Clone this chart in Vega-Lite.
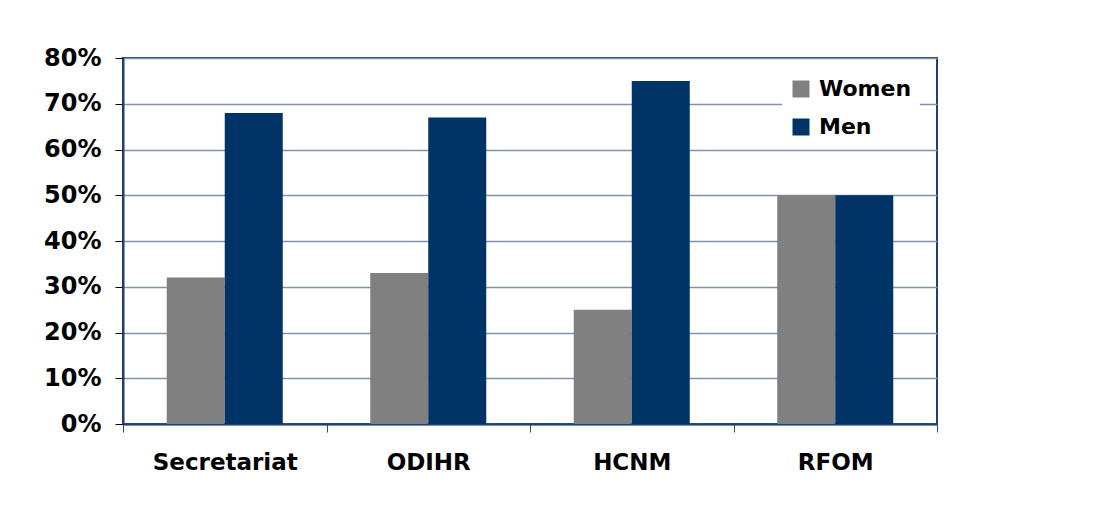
{
  "$schema": "https://vega.github.io/schema/vega-lite/v6.json",
  "autosize": "none",
  "width": 814,
  "height": 366,
  "padding": {"left": 123, "top": 58, "right": 159, "bottom": 82},
  "background": "white",
  "config": {
    "font": "DejaVu Sans",
    "view": {"stroke": "#1f3f6f", "strokeWidth": 2}
  },
  "data": {
    "values": [
      {"unit": "Secretariat", "gender": "Women", "share": 0.32},
      {"unit": "Secretariat", "gender": "Men", "share": 0.68},
      {"unit": "ODIHR", "gender": "Women", "share": 0.33},
      {"unit": "ODIHR", "gender": "Men", "share": 0.67},
      {"unit": "HCNM", "gender": "Women", "share": 0.25},
      {"unit": "HCNM", "gender": "Men", "share": 0.75},
      {"unit": "RFOM", "gender": "Women", "share": 0.5},
      {"unit": "RFOM", "gender": "Men", "share": 0.5}
    ]
  },
  "mark": {"type": "bar"},
  "encoding": {
    "x": {
      "field": "unit",
      "type": "nominal",
      "sort": ["Secretariat", "ODIHR", "HCNM", "RFOM"],
      "scale": {"paddingInner": 0, "paddingOuter": 0},
      "axis": {
        "title": null,
        "labelAngle": 0,
        "labelFont": "DejaVu Sans",
        "labelFontSize": 23,
        "labelFontWeight": "bold",
        "labelColor": "black",
        "labelPadding": 19,
        "tickBand": "extent",
        "tickSize": 8,
        "tickColor": "#1f4f85",
        "domainColor": "#1f3f6f",
        "domainWidth": 2
      }
    },
    "xOffset": {
      "field": "gender",
      "type": "nominal",
      "sort": ["Women", "Men"],
      "scale": {"paddingInner": 0, "paddingOuter": 0.754}
    },
    "y": {
      "field": "share",
      "type": "quantitative",
      "scale": {"domain": [0, 0.8]},
      "axis": {
        "title": null,
        "values": [0, 0.1, 0.2, 0.3, 0.4, 0.5, 0.6, 0.7, 0.8],
        "format": ".0%",
        "labelFont": "DejaVu Sans",
        "labelFontSize": 24,
        "labelFontWeight": "bold",
        "labelColor": "black",
        "labelPadding": 14,
        "tickSize": 8,
        "tickColor": "black",
        "domainColor": "#1f3f6f",
        "domainWidth": 2,
        "gridColor": "#7f93b0",
        "gridWidth": 1.5
      }
    },
    "color": {
      "field": "gender",
      "type": "nominal",
      "sort": ["Women", "Men"],
      "scale": {"domain": ["Women", "Men"], "range": ["#808080", "#003366"]},
      "legend": {
        "title": null,
        "orient": "none",
        "legendX": 659,
        "legendY": 12,
        "fillColor": "white",
        "padding": 8,
        "symbolType": "square",
        "symbolSize": 289,
        "symbolStrokeWidth": 0,
        "symbolOpacity": 1,
        "labelFont": "DejaVu Sans",
        "labelFontSize": 22,
        "labelFontWeight": "bold",
        "labelColor": "black",
        "labelOffset": 7,
        "rowPadding": 16
      }
    }
  }
}
